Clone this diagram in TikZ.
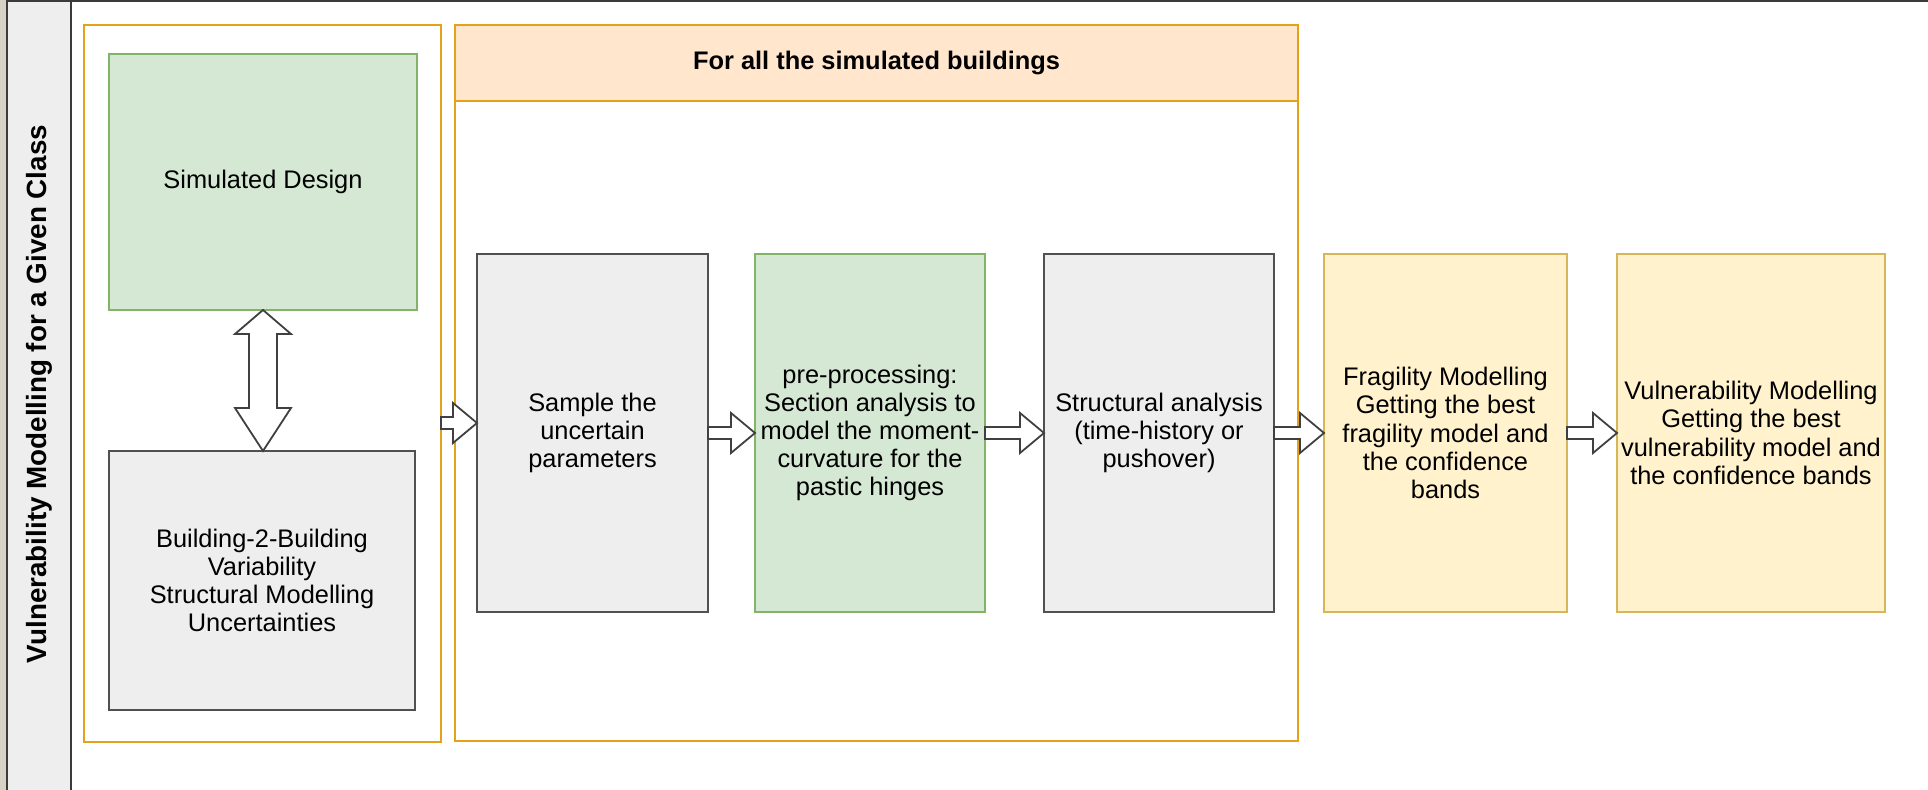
\documentclass[tikz,border=0pt]{standalone}
\usepackage{fontspec}
\setmainfont{Liberation Sans}
\usepackage{tikz}
\usetikzlibrary{
  positioning,
  calc,
}
\definecolor{stripBg}{HTML}{D6D3C4}
\definecolor{laneBg}{HTML}{EEEEEE}
\definecolor{laneEdge}{HTML}{3A3A3A}
\definecolor{groupEdge}{HTML}{E3A21A}
\definecolor{headBg}{HTML}{FFE6CC}
\definecolor{designBg}{HTML}{D5E8D4}
\definecolor{designEdge}{HTML}{82B366}
\definecolor{taskBg}{HTML}{EEEEEE}
\definecolor{taskEdge}{HTML}{505050}
\definecolor{modelBg}{HTML}{FFF2CC}
\definecolor{modelEdge}{HTML}{D6B656}
\tikzset{
  x=0.5pt, y=-0.5pt,
  txt/.style={font=\fontsize{12.7}{14.1}\selectfont},
  group/.style={
    rectangle, draw=groupEdge, line width=1pt, inner sep=0pt, outer sep=0pt,
  },
  stepbox/.style 2 args={
    rectangle, draw=#1, fill=#2, line width=1pt, inner sep=0pt,
    outer sep=0pt, align=center, txt,
  },
  blockarrow/.style={
    draw=black!75, fill=white, line width=0.9pt, line join=miter,
  },
}
% horizontal block arrow, drawn at the height of the target anchor
\newcommand{\flowarrow}[2]{%
  \draw[blockarrow] let \p1=(#1), \p2=(#2) in
    (\x1,\y2+3pt) -- (\x2-12pt,\y2+3pt) -- (\x2-12pt,\y2+10pt) -- (\x2,\y2)
    -- (\x2-12pt,\y2-10pt) -- (\x2-12pt,\y2-3pt) -- (\x1,\y2-3pt) -- cycle;
}

\begin{document}
\begin{tikzpicture}
\useasboundingbox (0,0) rectangle (1928,790);

% pool with its title lane
\fill[stripBg] (0,0) rectangle (7,790);
\draw[laneEdge, line width=1pt] (7,1.5) -- (1935,1.5);
\node[rectangle, draw=laneEdge, fill=laneBg, line width=1pt, outer sep=0pt,
  minimum width=32pt, minimum height=400pt, anchor=north west] (lane) at (7,1.5) {};
\node[rotate=90, font=\fontsize{13.9}{16}\selectfont\bfseries] (title) at (39,394)
  {Vulnerability Modelling for a Given Class};

% design group
\node[group, minimum width=178.5pt, minimum height=358.5pt] (designgrp) at (262.5,383.5) {};
\node[stepbox={designEdge}{designBg}, minimum width=154pt, minimum height=128pt]
  (design) at (263,182) {Simulated Design};
\node[stepbox={taskEdge}{taskBg}, minimum width=153pt, minimum height=129.5pt]
  (variability) at (262,580.5)
  {Building-2-Building\\Variability\\Structural Modelling\\Uncertainties};

% loop over the simulated buildings
\node[group, minimum width=421.5pt, minimum height=358pt] (loopgrp) at (876.5,383) {};
\node[group, fill=headBg, minimum width=421.5pt, minimum height=38pt,
  font=\fontsize{12.7}{14.1}\selectfont\bfseries] (loophead) at (876.5,63)
  {For all the simulated buildings};

\node[stepbox={taskEdge}{taskBg}, minimum width=115.5pt, minimum height=179pt]
  (sample) at (592.5,433) {Sample the\\uncertain\\parameters};
\node[stepbox={designEdge}{designBg}, minimum width=115pt, minimum height=179pt,
  right=23.5pt of sample] (prep)
  {pre-processing:\\Section analysis to\\model the moment-\\curvature for the\\pastic hinges};
\node[stepbox={taskEdge}{taskBg}, minimum width=115pt, minimum height=179pt,
  right=29.5pt of prep] (analysis)
  {Structural analysis\\(time-history or\\pushover)};

% post-processing
\node[stepbox={modelEdge}{modelBg}, minimum width=121.5pt, minimum height=179pt,
  right=25pt of analysis] (fragility)
  {Fragility Modelling\\Getting the best\\fragility model and\\the confidence\\bands};
\node[stepbox={modelEdge}{modelBg}, minimum width=134pt, minimum height=179pt,
  right=25pt of fragility] (vulnerability)
  {Vulnerability Modelling\\Getting the best\\vulnerability model and\\the confidence bands};

% connectors
\draw[blockarrow] let \p1=(design.south), \p2=(variability.north) in
  (\x1,\y1) -- (\x1+14pt,\y1-12pt) -- (\x1+7pt,\y1-12pt) -- (\x1+7pt,\y2+21.5pt)
  -- (\x1+14pt,\y2+21.5pt) -- (\x1,\y2) -- (\x1-14pt,\y2+21.5pt)
  -- (\x1-7pt,\y2+21.5pt) -- (\x1-7pt,\y1-12pt) -- (\x1-14pt,\y1-12pt) -- cycle;
\flowarrow{designgrp.east}{[yshift=5pt]sample.west}
\flowarrow{sample.east}{prep.west}
\flowarrow{prep.east}{analysis.west}
\flowarrow{analysis.east}{fragility.west}
\flowarrow{fragility.east}{vulnerability.west}

\end{tikzpicture}
\end{document}
